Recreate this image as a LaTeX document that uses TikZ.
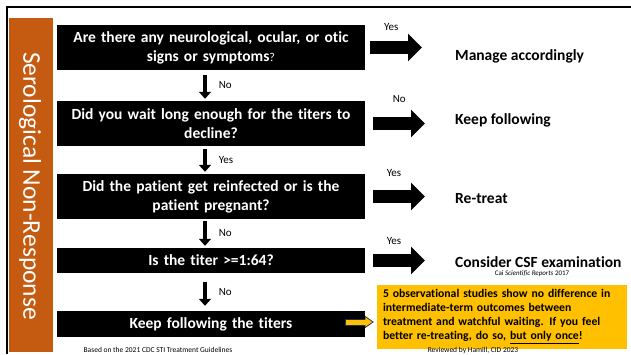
\documentclass[tikz,border=0pt]{standalone}
\usepackage{fontspec}
\setmainfont{Carlito}[Ligatures=NoCommon]
\usetikzlibrary{arrows.meta,calc}
\definecolor{bandorange}{RGB}{197,90,17}
\definecolor{noteyellow}{RGB}{255,192,0}
\definecolor{arrowblue}{RGB}{31,45,80}
\tikzset{
	qbox/.style={fill=black,text=white,font=\bfseries\fontsize{15.5}{19}\selectfont,align=center,text width=300pt,inner xsep=4pt,inner ysep=0pt},
	answer/.style={anchor=base west,inner sep=0pt,font=\bfseries\fontsize{15.5}{18}\selectfont},
	yn/.style={inner sep=0pt,font=\fontsize{11}{13}\selectfont},
	downarr/.style={line width=3.5pt,-{Triangle[length=7pt,width=12pt]},shorten <=4pt,shorten >=2pt},
	rightarr/.style={line width=13pt,-{Triangle[length=14pt,width=27pt]},shorten <=8pt,shorten >=30pt},
	small/.style={inner sep=0pt,anchor=base,font=\fontsize{7.5}{9}\selectfont}
}
\begin{document}
\begin{tikzpicture}[x=1pt,y=-1pt]
		\useasboundingbox (0,0) rectangle (631,354);
		\draw[line width=2pt] (7,354) -- (7,7) -- (631,7);
		\fill[bandorange] (9,18) rectangle (53,352);
		\node[rotate=-90,text=white,inner sep=0pt,font=\fontsize{25.5}{30}\selectfont] (title) at (30,186) {Serological Non-Response};
		\node[qbox,minimum height=45pt] (q1) at (211,47.5) {Are there any neurological, ocular, or otic\\signs or symptoms{\mdseries\fontsize{12}{14}\selectfont ?}};
		\node[qbox,minimum height=45pt] (q2) at (211,123.5) {Did you wait long enough for the titers to\\decline?};
		\node[qbox,minimum height=45pt] (q3) at (211,196.5) {Did the patient get reinfected or is the\\patient pregnant?};
		\node[qbox,minimum height=25pt] (q4) at (211,260.5) {Is the titer >=1:64?};
		\node[qbox,minimum height=26pt] (q5) at (211,324) {Keep following the titers};
		\node[answer] (r1) at (455,60) {Manage accordingly};
		\node[answer] (r2) at (455,124) {Keep following};
		\node[answer] (r3) at (455,203) {Re-treat};
		\node[answer] (r4) at (455,267) {Consider CSF examination};
		\node[small,font=\fontsize{7}{8}\selectfont] (cite) at (532,275) {Cai \textit{Scientific Reports} 2017};
		\node[fill=noteyellow,draw=noteyellow,minimum width=249pt,minimum height=63pt,text width=237pt,inner xsep=6pt,align=left,font=\bfseries\fontsize{11.7}{14}\selectfont] (note) at (501.5,316.5) {5 observational studies show no difference in\\intermediate-term outcomes between\\treatment and watchful waiting. If you feel\\better re-treating, do so, \underline{but only once}!};
		\draw[downarr,shorten <=5pt] ([xshift=-6pt]q1.south) -- node[yn,right=12pt] {No} ([xshift=-6pt]q2.north);
		\draw[downarr,shorten <=3pt] ([xshift=-6pt]q2.south) -- node[yn,right=12pt] {Yes} ([xshift=-6pt]q3.north);
		\draw[downarr,shorten <=2pt] ([xshift=-6pt]q3.south) -- node[yn,right=12pt] {No} ([xshift=-6pt]q4.north);
		\draw[downarr,shorten <=9pt,shorten >=5pt] ([xshift=-6pt]q4.south) -- node[yn,right=12pt] {No} ([xshift=-6pt]q5.north);
		\draw[rightarr,shorten <=5pt,shorten >=33pt] (q1.east) -- node[yn,pos=0.29,yshift=20pt] {Yes} (q1.east -| r1.west);
		\draw[rightarr] (q2.east) -- node[yn,pos=0.38,yshift=24pt] {No} (q2.east -| r2.west);
		\draw[rightarr] (q3.east) -- node[yn,pos=0.32,yshift=23pt] {Yes} (q3.east -| r3.west);
		\draw[rightarr] (q4.east) -- node[yn,pos=0.32,yshift=19pt] {Yes} (q4.east -| r4.west);
		\draw[arrowblue,line width=7pt,-{Triangle[length=9pt,width=12pt]},shorten >=3pt] ([xshift=-20pt,yshift=2pt]q5.east) -- ([yshift=2pt]q5.east -| note.west);
		\draw[noteyellow,line width=5pt,-{Triangle[length=7pt,width=9pt]},shorten <=1pt,shorten >=4.5pt] ([xshift=-20pt,yshift=2pt]q5.east) -- ([yshift=2pt]q5.east -| note.west);
		\node[small] (based) at (158,352) {Based on the 2021 CDC STI Treatment Guidelines};
		\node[small] (review) at (473,352) {Reviewed by Hamill, CID 2023};
\end{tikzpicture}
\end{document}
